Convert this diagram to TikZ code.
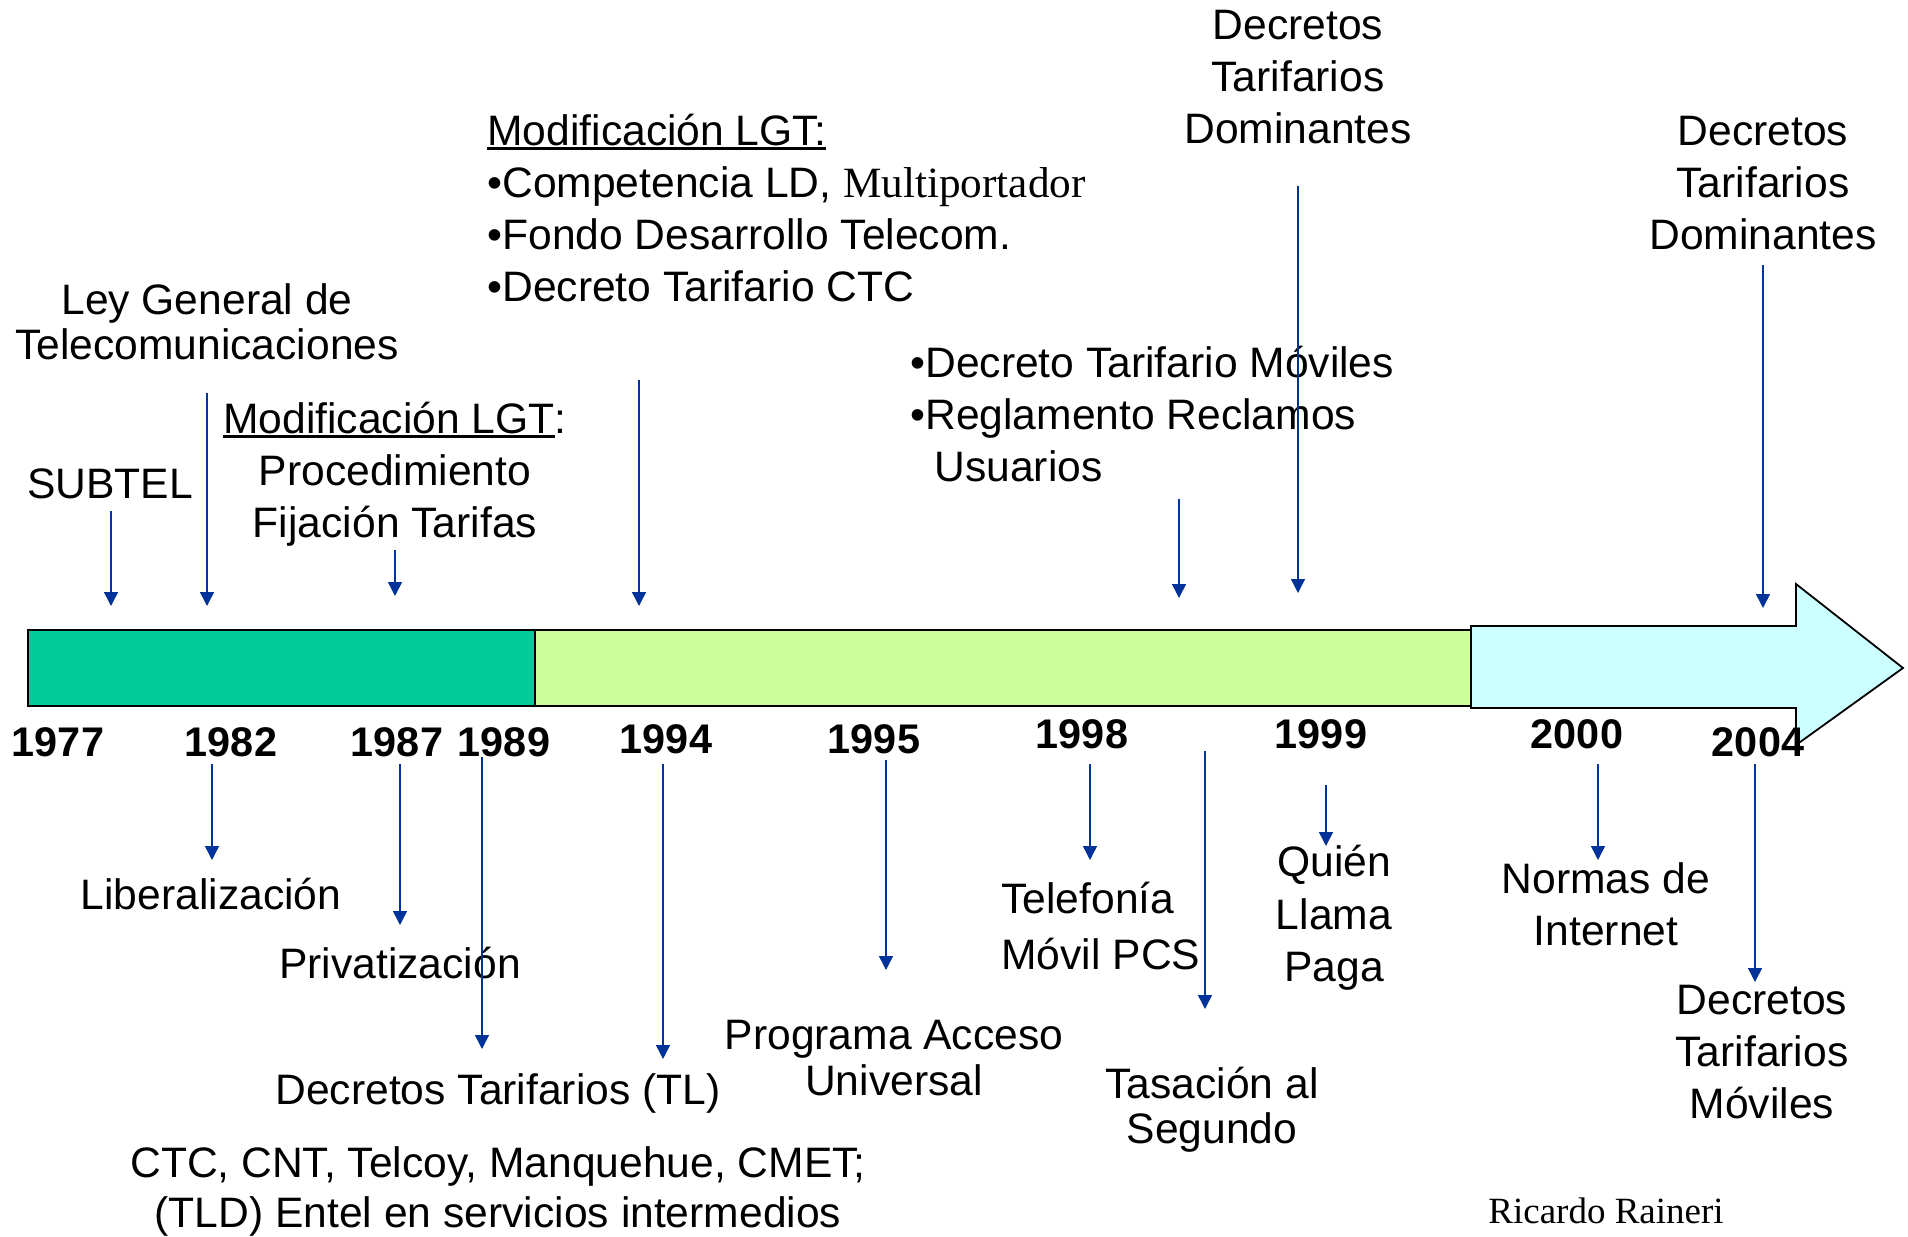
\documentclass[tikz,border=0pt]{standalone}
\usepackage{fontspec}
\setmainfont{Liberation Sans}
\newfontfamily\timesrm{Liberation Serif}
\usepackage{tikz}
\usetikzlibrary{arrows.meta,positioning}
\definecolor{periodA}{HTML}{00CC99}
\definecolor{periodB}{HTML}{CCFF99}
\definecolor{periodC}{HTML}{CCFFFF}
\definecolor{evblue}{HTML}{003399}
% thicker underline for the headings
\newcommand\headline[1]{\vtop{\hbox{#1}\kern0.8pt\hrule height 1.35pt}}
\tikzset{
    evarrow/.style={
    draw=evblue,line width=0.75pt,-{Triangle[length=7pt,width=7pt]}
    },
    period/.style={
    draw=black,line width=0.9pt
    },
    txt/.style={
    align=center,inner sep=0pt,font=\fontsize{21.3}{26}\selectfont
    },
    txtl/.style={
    align=left,inner sep=0pt,font=\fontsize{21.3}{26}\selectfont
    },
    tight/.style={font=\fontsize{21.3}{22.7}\selectfont},
    loose/.style={font=\fontsize{21.3}{28}\selectfont},
    yr/.style={inner sep=0pt,font=\fontsize{20.7}{24}\selectfont\bfseries},
}

\begin{document}
\begin{tikzpicture}[x=0.5pt,y=-0.5pt]
\useasboundingbox (0,0) rectangle (1908,1237);

  % time bar
  \path[period,fill=periodA] (28,630) rectangle (535,706);
  \path[period,fill=periodB] (535,630) rectangle (1471,706);
  \path[period,fill=periodC] (1471,626) -- (1796,626) -- (1796,584) -- (1903,668)
    -- (1796,745) -- (1796,708) -- (1471,708) -- cycle;

  % years
  \node[yr] (y1977) at (58,742) {1977};
  \node[yr] (y1982) at (231,742) {1982};
  \node[yr] (y1987) at (397,742) {1987};
  \node[yr] (y1989) at (504,742) {1989};
  \node[yr] (y1994) at (666,739) {1994};
  \node[yr] (y1995) at (874,739) {1995};
  \node[yr] (y1998) at (1082,734) {1998};
  \node[yr] (y1999) at (1321,734) {1999};
  \node[yr] (y2000) at (1577,734) {2000};
  \node[yr] (y2004) at (1758,742) {2004};

  % events above the bar
  \node[txt] (subtel) at (110,484) {SUBTEL};
  \node[txt,tight] (lgt) at (207,322) {Ley General de\\Telecomunicaciones};
  \node[txt] (proc) at (395,474) {\headline{Modificación LGT}:\\Procedimiento\\Fijación Tarifas};
  \node[txtl,anchor=west] (multi) at (487,208) {\headline{Modificación LGT:}\\
    •Competencia LD, {\timesrm\fontsize{21.6}{26}\selectfont Multiportador}\\•Fondo Desarrollo Telecom.\\•Decreto Tarifario CTC};
  \node[txtl,anchor=west] (moviles) at (910,414) {•Decreto Tarifario Móviles\\
    •Reglamento Reclamos\\\hspace*{12pt}Usuarios};
  \node[txt] (dom99) at (1298,77) {Decretos\\Tarifarios\\Dominantes};
  \node[txt] (dom04) at (1763,183) {Decretos\\Tarifarios\\Dominantes};

  \coordinate (subtel-a) at (111,511);  \coordinate (subtel-b) at (111,606);
  \coordinate (lgt-a) at (207,393);     \coordinate (lgt-b) at (207,606);
  \coordinate (proc-a) at (395,550);    \coordinate (proc-b) at (395,596);
  \coordinate (multi-a) at (639,380);   \coordinate (multi-b) at (639,606);
  \coordinate (moviles-a) at (1179,499); \coordinate (moviles-b) at (1179,598);
  \coordinate (dom99-a) at (1298,186);  \coordinate (dom99-b) at (1298,593);
  \coordinate (dom04-a) at (1763,265);  \coordinate (dom04-b) at (1763,608);
  \draw[evarrow] (subtel-a) -- (subtel-b);
  \draw[evarrow] (lgt-a) -- (lgt-b);
  \draw[evarrow] (proc-a) -- (proc-b);
  \draw[evarrow] (multi-a) -- (multi-b);
  \draw[evarrow] (moviles-a) -- (moviles-b);
  \draw[evarrow] (dom99-a) -- (dom99-b);
  \draw[evarrow] (dom04-a) -- (dom04-b);

  % events below the bar
  \node[txt] (lib) at (211,894) {Liberalización};
  \node[txt] (priv) at (400,963) {Privatización};
  \node[txt] (dtl) at (498,1093) {Decretos Tarifarios (TL)};
  \node[txt,font=\fontsize{21.3}{25}\selectfont] (ctc) at (498,1191) {CTC, CNT, Telcoy, Manquehue, CMET;\\(TLD) Entel en servicios intermedios};
  \node[txt,tight] (pau) at (894,1058) {Programa Acceso\\Universal};
  \node[txtl,loose,anchor=west] (pcs) at (1001,926) {Telefonía\\Móvil PCS};
  \node[txt,tight] (tas) at (1212,1110) {Tasación al\\Segundo};
  \node[txt,font=\fontsize{21.3}{26.2}\selectfont] (qlp) at (1334,918) {Quién\\Llama\\Paga};
  \node[txt] (net) at (1606,904) {Normas de\\Internet};
  \node[txt] (dtm) at (1762,1052) {Decretos\\Tarifarios\\Móviles};

  \coordinate (lib-a) at (212,764);     \coordinate (lib-b) at (212,860);
  \coordinate (priv-a) at (400,764);    \coordinate (priv-b) at (400,925);
  \coordinate (dtl-a) at (482,757);     \coordinate (dtl-b) at (482,1049);
  \coordinate (ctc-a) at (663,764);     \coordinate (ctc-b) at (663,1059);
  \coordinate (pau-a) at (886,760);     \coordinate (pau-b) at (886,970);
  \coordinate (pcs-a) at (1090,764);    \coordinate (pcs-b) at (1090,860);
  \coordinate (tas-a) at (1205,751);    \coordinate (tas-b) at (1205,1009);
  \coordinate (qlp-a) at (1326,785);    \coordinate (qlp-b) at (1326,846);
  \coordinate (net-a) at (1598,764);    \coordinate (net-b) at (1598,860);
  \coordinate (dtm-a) at (1755,764);    \coordinate (dtm-b) at (1755,982);
  \draw[evarrow] (lib-a) -- (lib-b);
  \draw[evarrow] (priv-a) -- (priv-b);
  \draw[evarrow] (dtl-a) -- (dtl-b);
  \draw[evarrow] (ctc-a) -- (ctc-b);
  \draw[evarrow] (pau-a) -- (pau-b);
  \draw[evarrow] (pcs-a) -- (pcs-b);
  \draw[evarrow] (tas-a) -- (tas-b);
  \draw[evarrow] (qlp-a) -- (qlp-b);
  \draw[evarrow] (net-a) -- (net-b);
  \draw[evarrow] (dtm-a) -- (dtm-b);

  \node[inner sep=0pt,font=\fontsize{18.5}{22}\selectfont\timesrm] (author) at (1606,1211) {Ricardo Raineri};
\end{tikzpicture}
\end{document}
